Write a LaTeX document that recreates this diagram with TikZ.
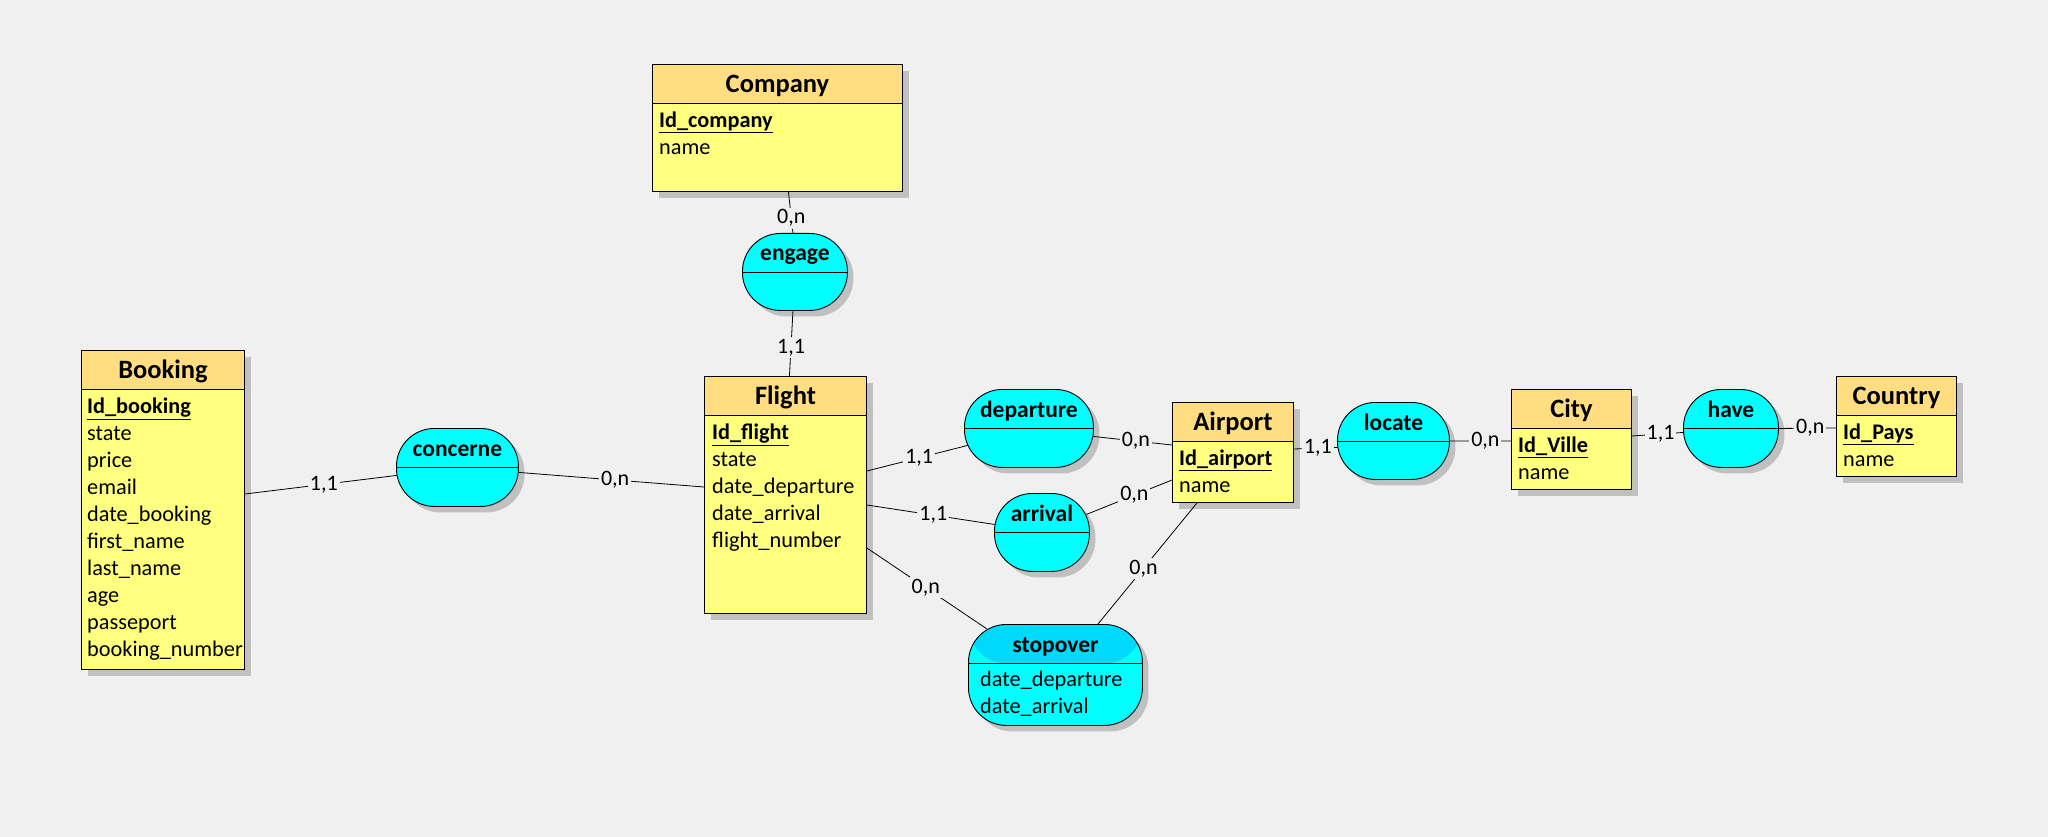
\documentclass[tikz,border=0pt]{standalone}
\usepackage{fontspec}
\setmainfont{Carlito}
\usetikzlibrary{shapes,shadows,calc}

\definecolor{bg}{RGB}{240,240,240}
\definecolor{headfill}{RGB}{255,221,128}
\definecolor{bodyfill}{RGB}{255,255,128}
\definecolor{relfill}{RGB}{0,255,255}
\definecolor{relhead}{RGB}{0,218,250}
\definecolor{shade}{RGB}{192,192,192}

\begin{document}
\begin{tikzpicture}[x=1pt, y=-1pt,
				entity/.style={
				% The shape:
				rectangle, anchor=north west, inner sep=0pt,
				% The border:
				draw=black, line width=0.9pt,
				% The filling:
				fill=bodyfill,
				drop shadow={shadow xshift=7pt, shadow yshift=-7pt, fill=shade, opacity=1}
				},
				entityhead/.style={
				% The shape:
				rectangle, anchor=north west, inner sep=0pt,
				% The size:
				minimum height=39pt, text height=20pt, text depth=3pt,
				% The border:
				draw=black, line width=0.9pt,
				% The filling:
				fill=headfill,
				font=\fontsize{26.5}{30}\selectfont\bfseries
				},
				relation/.style={
				% The shape:
				rectangle, rounded corners=38pt, anchor=north west, inner sep=0pt,
				% The border:
				draw=black, line width=0.9pt,
				% The filling:
				fill=relfill,
				drop shadow={shadow xshift=6pt, shadow yshift=-6pt, fill=shade, opacity=1},
				path picture={
				  \fill[#1] (path picture bounding box.north west) rectangle ([yshift=-39pt]path picture bounding box.north east);
				  \draw[line width=0.9pt] ([yshift=-39pt]path picture bounding box.north west) -- ([yshift=-39pt]path picture bounding box.north east);
				}
				},
				relation/.default=relfill,
				relname/.style={inner sep=0pt, text height=16.5pt, text depth=4.5pt, font=\fontsize{23.5}{27}\selectfont\bfseries},
				attrs/.style={anchor=north west, inner sep=0pt, align=left, font=\fontsize{22.3}{27}\selectfont},
				card/.style={fill=bg, inner sep=2pt, font=\fontsize{22}{26}\selectfont},
				link/.style={draw=black, line width=0.8pt}
				]
    \tikzstyle{every node} = [text=black]
    \fill[bg] (0,0) rectangle (2048,837);
    \useasboundingbox (0,0) rectangle (2048,837);

    % entities
    \node [entity, minimum width=250pt, minimum height=127pt] (company) at (652,64) {};
    \node [entityhead, minimum width=250pt] (company-h) at (company.north west) {Company};
    \node [attrs] (company-a) at ($(company-h.south west)+(7,8)$) {\underline{\textbf{Id\_company}}\\name};

    \node [entity, minimum width=163pt, minimum height=319pt] (booking) at (81,350) {};
    \node [entityhead, minimum width=163pt] (booking-h) at (booking.north west) {Booking};
    \node [attrs] (booking-a) at ($(booking-h.south west)+(6,8)$) {\underline{\textbf{Id\_booking}}\\state\\price\\email\\date\_booking\\first\_name\\last\_name\\age\\passeport\\booking\_number};

    \node [entity, minimum width=162pt, minimum height=237pt] (flight) at (704,376) {};
    \node [entityhead, minimum width=162pt] (flight-h) at (flight.north west) {Flight};
    \node [attrs] (flight-a) at ($(flight-h.south west)+(8,8)$) {\underline{\textbf{Id\_flight}}\\state\\date\_departure\\date\_arrival\\flight\_number};

    \node [entity, minimum width=121pt, minimum height=100pt] (airport) at (1172,402) {};
    \node [entityhead, minimum width=121pt] (airport-h) at (airport.north west) {Airport};
    \node [attrs] (airport-a) at ($(airport-h.south west)+(7,8)$) {\underline{\textbf{Id\_airport}}\\name};

    \node [entity, minimum width=120pt, minimum height=100pt] (city) at (1511,389) {};
    \node [entityhead, minimum width=120pt] (city-h) at (city.north west) {City};
    \node [attrs] (city-a) at ($(city-h.south west)+(7,8)$) {\underline{\textbf{Id\_Ville}}\\name};

    \node [entity, minimum width=120pt, minimum height=100pt] (country) at (1836,376) {};
    \node [entityhead, minimum width=120pt] (country-h) at (country.north west) {Country};
    \node [attrs] (country-a) at ($(country-h.south west)+(7,8)$) {\underline{\textbf{Id\_Pays}}\\name};

    % associations
    \node [relation, minimum width=105pt, minimum height=77pt] (engage) at (742,233) {};
    \node [relname] (engage-t) at ($(engage.north)+(0,22)$) {engage};
    \node [relation, minimum width=122pt, minimum height=78pt] (concerne) at (396,428) {};
    \node [relname] (concerne-t) at ($(concerne.north)+(0,22)$) {concerne};
    \node [relation, minimum width=129pt, minimum height=78pt] (departure) at (964,389) {};
    \node [relname] (departure-t) at ($(departure.north)+(0,22)$) {departure};
    \node [relation, minimum width=95pt, minimum height=78pt] (arrival) at (994,493) {};
    \node [relname] (arrival-t) at ($(arrival.north)+(0,22)$) {arrival};
    \node [relation=relhead, minimum width=174pt, minimum height=101pt] (stopover) at (968,624) {};
    \node [relname] (stopover-t) at ($(stopover.north)+(0,22)$) {stopover};
    \node [attrs] (stopover-a) at ($(stopover.north west)+(12,47)$) {date\_departure\\date\_arrival};
    \node [relation, minimum width=112pt, minimum height=77pt] (locate) at (1337,402) {};
    \node [relname] (locate-t) at ($(locate.north)+(0,22)$) {locate};
    \node [relation, minimum width=95pt, minimum height=78pt] (have) at (1683,389) {};
    \node [relname] (have-t) at ($(have.north)+(0,22)$) {have};

    % links
    \draw [link] ($(company.south)+(11,0)$) -- node[card, pos=0.64] (c1) {0,n} ($(engage.north)+(-2,0)$);
    \draw [link] ($(engage.south)+(-2,0)$) -- node[card, pos=0.56] (c2) {1,1} ($(flight.north)+(4,0)$);
    \draw [link] ($(booking.north east)+(0,144)$) -- node[card, pos=0.52] (c3) {1,1} ($(concerne.west)+(0.6,8)$);
    \draw [link] ($(concerne.east)+(0,5)$) -- node[card, pos=0.52] (c4) {0,n} ($(flight.north west)+(0,111)$);
    \draw [link] ($(flight.north east)+(0,95)$) -- node[card, pos=0.52] (c5) {1,1} ($(departure.west)+(3.5,17)$);
    \draw [link] ($(departure.east)+(-0.5,8)$) -- node[card, pos=0.54] (c6) {0,n} ($(airport.north west)+(0,43)$);
    \draw [link] ($(flight.north east)+(0,129)$) -- node[card, pos=0.52] (c7) {1,1} ($(arrival.west)+(0.6,-8)$);
    \draw [link] ($(arrival.east)+(-3.5,-18)$) -- node[card, pos=0.56] (c8) {0,n} ($(airport.north west)+(0,78)$);
    \draw [link] ($(flight.north east)+(0,172)$) -- node[card, pos=0.49] (c9) {0,n} ($(stopover.north west)+(19,5)$);
    \draw [link] ($(stopover.north west)+(130,0)$) -- node[card, pos=0.46] (c10) {0,n} ($(airport.south west)+(25,0)$);
    \draw [link] ($(airport.north east)+(0,47)$) -- node[card, pos=0.55] (c11) {1,1} ($(locate.west)+(0.5,6.5)$);
    \draw [link] (locate.east) -- node[card, pos=0.58] (c12) {0,n} ($(city.north west)+(0,52)$);
    \draw [link] ($(city.north east)+(0,47)$) -- node[card, pos=0.56] (c13) {1,1} ($(have.west)+(0,4)$);
    \draw [link] (have.east) -- node[card, pos=0.55] (c14) {0,n} ($(country.north west)+(0,52)$);
\end{tikzpicture}
\end{document}
